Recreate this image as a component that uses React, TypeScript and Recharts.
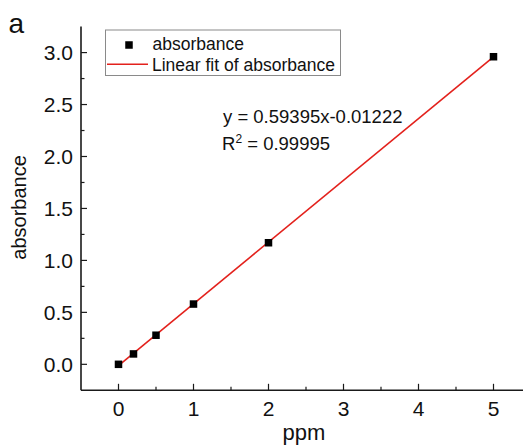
import React from 'react';
import { ComposedChart, Scatter, Line, XAxis, YAxis } from 'recharts';

// ---- data ----
const ppm = [0, 0.2, 0.5, 1, 2, 5];
const absorbance = [0.0, 0.1, 0.28, 0.58, 1.17, 2.96];
const fitPpm = [0, 5];
const fitAbsorbance = [-0.012, 2.958];

const xMajorTicks = [0, 1, 2, 3, 4, 5];
const xMinorTicks = [0.5, 1.5, 2.5, 3.5, 4.5];
const yMajorTicks = [0, 0.5, 1, 1.5, 2, 2.5, 3];
const yMinorTicks = [0.25, 0.75, 1.25, 1.75, 2.25, 2.75];
const xTickLabels = ['0', '1', '2', '3', '4', '5'];
const yTickLabels = ['0.0', '0.5', '1.0', '1.5', '2.0', '2.5', '3.0'];

const seriesName = 'absorbance';
const fitName = 'Linear fit of absorbance';
const equationText = 'y = 0.59395x-0.01222';
const r2Value = '0.99995';
const panelLetter = 'a';
const xTitle = 'ppm';
const yTitle = 'absorbance';

const scatterData = ppm.map((x, i) => ({ x, y: absorbance[i] }));
const fitData = fitPpm.map((x, i) => ({ x, y: fitAbsorbance[i] }));
const xTicks = [...xMajorTicks, ...xMinorTicks].sort((a, b) => a - b);
const yTicks = [...yMajorTicks, ...yMinorTicks].sort((a, b) => a - b);

const FONT = '"Liberation Sans", Arial, Helvetica, sans-serif';
const AXIS = '#1a1a1a';
const RED = '#e3211c';
const W = 523;
const H = 438;

const XTick = (props: any) => {
  const { x, y, payload } = props;
  const v = payload.value;
  const mi = xMajorTicks.indexOf(v);
  const major = mi >= 0;
  return (
    <g>
      <line x1={x} x2={x} y1={y} y2={y - (major ? 6.5 : 3.5)} stroke={AXIS} strokeWidth={1.2} />
      {major && (
        <text x={x} y={y + 25.5} textAnchor="middle" fontSize={21} fontFamily={FONT} fill="#111">
          {xTickLabels[mi]}
        </text>
      )}
    </g>
  );
};

const YTick = (props: any) => {
  const { x, y, payload } = props;
  const v = payload.value;
  const mi = yMajorTicks.indexOf(v);
  const major = mi >= 0;
  return (
    <g>
      <line x1={x} x2={x + (major ? 6 : 3.5)} y1={y} y2={y} stroke={AXIS} strokeWidth={1.2} />
      {major && (
        <text x={x - 8} y={y + 7.5} textAnchor="end" fontSize={21} fontFamily={FONT} fill="#111">
          {yTickLabels[mi]}
        </text>
      )}
    </g>
  );
};

const SquareDot = (props: any) => {
  const { cx, cy } = props;
  if (cx == null || cy == null) return null;
  const s = 7.5;
  return <rect x={cx - s / 2} y={cy - s / 2} width={s} height={s} fill="#000" />;
};

const YTitleLabel = (props: any) => {
  const vb = props.viewBox || { y: 18.6, height: 363.7 };
  const cx = 18.4;
  const cy = vb.y + vb.height / 2 - 1;
  return (
    <text x={cx} y={cy} transform={`rotate(-90 ${cx} ${cy})`} textAnchor="middle" fontSize={20} fontFamily={FONT} fill="#111">
      {yTitle}
    </text>
  );
};

const XTitleLabel = (props: any) => {
  const vb = props.viewBox || { x: 73, width: 450 };
  const cx = vb.x + vb.width / 2 - 2;
  return (
    <text x={cx} y={432} textAnchor="middle" fontSize={22} fontFamily={FONT} fill="#111">
      {xTitle}
    </text>
  );
};

export default function App() {
  return (
    <div style={{ position: 'relative', width: W, height: H }}>
      <ComposedChart
        width={W}
        height={H}
        margin={{ top: 18.6, right: 0, bottom: 0, left: 0 }}
        style={{ position: 'absolute', left: 0, top: 0 }}
      >
        <XAxis
          xAxisId={0}
          dataKey="x"
          type="number"
          domain={[-0.5, 5.5]}
          allowDataOverflow
          ticks={xTicks}
          interval={0}
          tickSize={0}
          tickMargin={0}
          tickLine={false}
          tick={<XTick />}
          height={55.7}
          axisLine={{ stroke: AXIS, strokeWidth: 1.6 }}
          label={<XTitleLabel />}
        />
        <XAxis
          xAxisId="top"
          orientation="top"
          type="number"
          domain={[-0.5, 5.5]}
          allowDataOverflow
          tick={false}
          tickLine={false}
          height={0}
          axisLine={{ stroke: AXIS, strokeWidth: 1.6 }}
        />
        <YAxis
          dataKey="y"
          type="number"
          domain={[-0.25, 3.25]}
          allowDataOverflow
          ticks={yTicks}
          interval={0}
          tickSize={0}
          tickMargin={0}
          tickLine={false}
          tick={<YTick />}
          width={73}
          axisLine={{ stroke: AXIS, strokeWidth: 1.6 }}
          label={<YTitleLabel />}
        />
        <Scatter
          name={seriesName}
          data={scatterData}
          dataKey="y"
          shape={<SquareDot />}
          isAnimationActive={false}
        />
        <Line
          name={fitName}
          data={fitData}
          dataKey="y"
          type="linear"
          stroke={RED}
          strokeWidth={1.6}
          dot={false}
          activeDot={false}
          isAnimationActive={false}
        />
      </ComposedChart>
      <svg
        width={W}
        height={H}
        style={{ position: 'absolute', left: 0, top: 0, pointerEvents: 'none' }}
      >
        <text x={0.5} y={24.7} fontSize={28} fontFamily={FONT} fill="#111">{panelLetter}</text>
        <rect x={97.5} y={22} width={235} height={45.5} fill="#fff" stroke="#8a8a8a" strokeWidth={1} />
        <rect x={121 - 3.75} y={37 - 3.75} width={7.5} height={7.5} fill="#000" />
        <text x={144.5} y={42} fontSize={17.5} fontFamily={FONT} fill="#111">{seriesName}</text>
        <line x1={99} x2={140} y1={56.3} y2={56.3} stroke={RED} strokeWidth={1.6} />
        <text x={144} y={62.7} fontSize={17.5} fontFamily={FONT} fill="#111">{fitName}</text>
        <text x={215} y={115} fontSize={18.5} fontFamily={FONT} fill="#111">{equationText}</text>
        <text x={214} y={142} fontSize={18.5} fontFamily={FONT} fill="#111">
          R<tspan fontSize={12} dy={-7.5}>2</tspan>
          <tspan dy={7.5}>{' = ' + r2Value}</tspan>
        </text>
      </svg>
    </div>
  );
}
